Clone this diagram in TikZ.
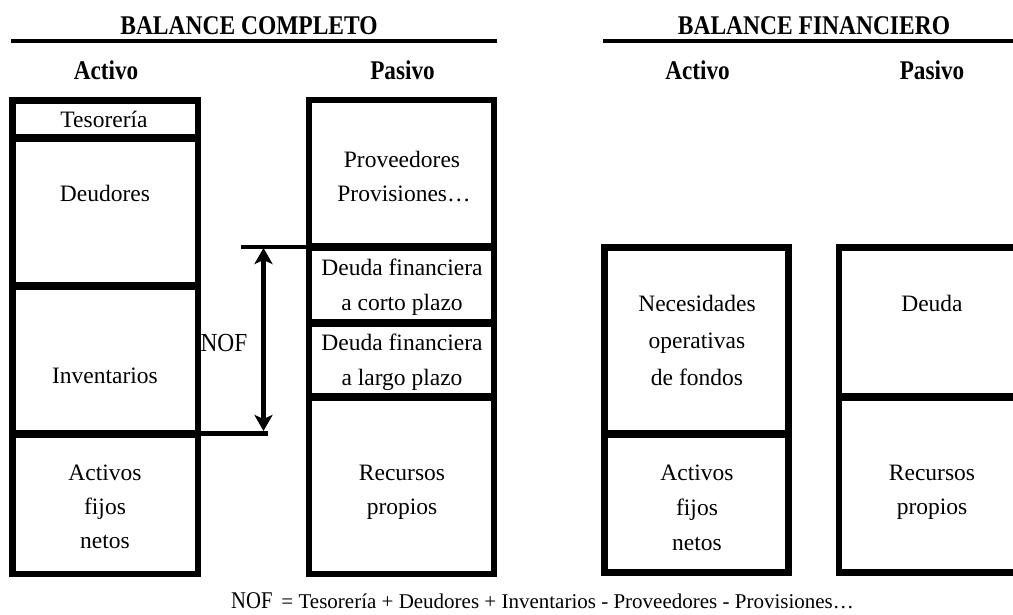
\documentclass[tikz,border=0pt]{standalone}
\usepackage{fontspec}
\setmainfont{Liberation Serif}
\usepackage{graphicx}
\usetikzlibrary{arrows.meta}
\newcommand\bodyfont{\fontsize{23.5}{28}\selectfont}
\newcommand\headtext[2][0.86]{\scalebox{#1}[1]{\fontsize{27}{30}\selectfont\bfseries #2}}
\begin{document}
\begin{tikzpicture}[x=1pt,y=-1pt,
  cell/.style={draw, line width=6.5pt, inner sep=0pt, outer sep=0pt},
  divider/.style={line width=8pt},
  rule/.style={line width=4pt},
  lbl/.style={anchor=base, inner sep=0pt, font=\bodyfont},
  head/.style={anchor=base, inner sep=0pt},
  guide/.style={line width=4.5pt},
  nofarrow/.style={line width=5.5pt,
    {Stealth[length=16pt,width=18pt,inset=4pt]}-{Stealth[length=16pt,width=18pt,inset=4pt]}}
]
\clip (0,0) rectangle (1013,614);

% ---------- titles ----------
\node[head] (tcomp) at (249,34) {\headtext[0.87]{BALANCE COMPLETO}};
\node[head] (tfin)  at (814,34) {\headtext[0.87]{BALANCE FINANCIERO}};
\draw[rule] (11,41) -- (497,41);
\draw[rule] (603,41) -- (1013,41);

\node[head] (hact1) at (106,79)   {\headtext{Activo}};
\node[head] (hpas1) at (402.5,79) {\headtext{Pasivo}};
\node[head] (hact2) at (697.5,79) {\headtext{Activo}};
\node[head] (hpas2) at (932,79)   {\headtext{Pasivo}};

% ---------- balance completo: activo ----------
\node[cell, minimum width=185.5pt, minimum height=37.5pt]  (tes) at (105.25,119.25) {};
\node[cell, minimum width=185.5pt, minimum height=148pt]   (deu) at (105.25,212) {};
\node[cell, minimum width=185.5pt, minimum height=147.5pt] (inv) at (105.25,359.75) {};
\node[cell, minimum width=185.5pt, minimum height=140.5pt] (afn) at (105.25,503.75) {};
\draw[divider] (tes.south west) -- (tes.south east);
\draw[divider] (deu.south west) -- (deu.south east);
\draw[divider] (inv.south west) -- (inv.south east);

\node[lbl] (ltes) at (104,127) {Tesorería};
\node[lbl] (ldeu) at (105,201) {Deudores};
\node[lbl] (linv) at (105,383) {Inventarios};
\node[lbl] (lafa) at (105,480) {Activos};
\node[lbl] (lafb) at (105,514) {fijos};
\node[lbl] (lafc) at (105,548) {netos};

% ---------- balance completo: pasivo ----------
\node[cell, minimum width=185pt, minimum height=147pt]   (prov) at (401.5,173.5) {};
\node[cell, minimum width=185pt, minimum height=75.5pt]  (dcp)  at (401.5,284.75) {};
\node[cell, minimum width=185pt, minimum height=74pt]    (dlp)  at (401.5,359.5) {};
\node[cell, minimum width=185pt, minimum height=177.5pt] (rp)   at (401.5,485.25) {};
\draw[divider] (prov.south west) -- (prov.south east);
\draw[divider] (dcp.south west) -- (dcp.south east);
\draw[divider] (dlp.south west) -- (dlp.south east);

\node[lbl] (lprova) at (402,167) {Proveedores};
\node[lbl] (lprovb) at (404,201) {Provisiones…};
\node[lbl] (ldcpa)  at (402,275) {Deuda financiera};
\node[lbl] (ldcpb)  at (402,310) {a corto plazo};
\node[lbl] (ldlpa)  at (402,350) {Deuda financiera};
\node[lbl] (ldlpb)  at (402,385) {a largo plazo};
\node[lbl] (lrpa)   at (402,480) {Recursos};
\node[lbl] (lrpb)   at (402,514) {propios};

% ---------- NOF bracket ----------
\coordinate (nofTop) at (241,247);
\coordinate (nofBot) at (268,433.5);
\coordinate (arrTop) at (263.5,248);
\coordinate (arrBot) at (263.5,431);
\draw[guide] (nofTop) -- (dcp.north west);
\draw[guide] (inv.south east) -- (nofBot);
\draw[nofarrow] (arrTop) -- (arrBot);
\node[anchor=base, inner sep=0pt] (lnof) at (224,351)
  {\scalebox{0.9}[1]{\fontsize{26}{28}\selectfont NOF}};

% ---------- balance financiero: activo ----------
\node[cell, minimum width=184pt, minimum height=186.5pt] (nof)  at (696.5,340.75) {};
\node[cell, minimum width=184pt, minimum height=138.5pt] (afn2) at (696.5,503.25) {};
\draw[divider] (nof.south west) -- (nof.south east);

\node[lbl] (lnofa) at (697,311) {Necesidades};
\node[lbl] (lnofb) at (697,348) {operativas};
\node[lbl] (lnofc) at (697,385) {de fondos};
\node[lbl] (lafd)  at (697,480) {Activos};
\node[lbl] (lafe)  at (697,515) {fijos};
\node[lbl] (laff)  at (697,550) {netos};

% ---------- balance financiero: pasivo ----------
\node[cell, minimum width=186pt, minimum height=149pt] (deuda) at (932,322) {};
\node[cell, minimum width=186pt, minimum height=176pt] (rp2)   at (932,484.5) {};
\draw[divider] (deuda.south west) -- (deuda.south east);

\node[lbl] (ldeuda) at (932,311) {Deuda};
\node[lbl] (lrpc)   at (932,480) {Recursos};
\node[lbl] (lrpd)   at (932,514) {propios};

% ---------- definition ----------
\node[anchor=base west, inner sep=0pt] (formula) at (231,608)
  {\scalebox{0.86}[1]{\fontsize{24}{24}\selectfont NOF}\hspace{9pt}{\fontsize{21}{21}\selectfont = Tesorería + Deudores + Inventarios - Proveedores - Provisiones…}};
\end{tikzpicture}
\end{document}
